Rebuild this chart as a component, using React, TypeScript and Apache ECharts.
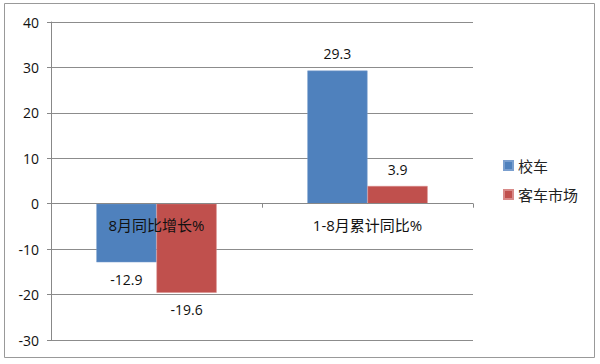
import React, { useEffect, useRef } from "react";
import * as echarts from "echarts";

const categories = ["8月同比增长%", "1-8月累计同比%"];
const seriesNames = ["校车", "客车市场"];
const schoolBus = [-12.9, 29.3];
const busMarket = [-19.6, 3.9];
const yTicks = { min: -30, max: 40, interval: 10 };
const colors = ["#4F81BD", "#C0504D"];

const FONT = "'Open Sans', 'Noto Sans CJK SC', sans-serif";
const GRID = { left: 51, right: 127, top: 22, bottom: 24 };
const H = 364;

export default function App() {
  const ref = useRef<HTMLDivElement>(null);
  useEffect(() => {
    if (!ref.current) return;
    const chart = echarts.init(ref.current, undefined, { renderer: "svg" });
    const mk = (vals: number[]) =>
      vals.map((v) => ({
        value: v,
        label: { position: v < 0 ? "bottom" : "top" },
      }));
    const plotH = H - GRID.top - GRID.bottom;
    const zeroFromBottom = (plotH * (0 - yTicks.min)) / (yTicks.max - yTicks.min);
    chart.setOption({
      animation: false,
      textStyle: { fontFamily: FONT },
      grid: { ...GRID, containLabel: false, outerBoundsMode: "none" },
      legend: {
        orient: "vertical",
        left: 498,
        top: 153,
        itemWidth: 9,
        itemHeight: 9,
        itemGap: 14,
        icon: "rect",
        textStyle: { fontSize: 15, color: "#222", fontFamily: FONT },
        data: seriesNames,
      },
      xAxis: {
        type: "category",
        data: categories,
        position: "bottom",
        offset: -zeroFromBottom,
        axisLine: { onZero: false, lineStyle: { color: "#888", width: 1 } },
        axisTick: { show: true, length: 4, lineStyle: { color: "#888" } },
        axisLabel: { margin: 14, fontSize: 15, color: "#111", fontFamily: FONT },
        z: 10,
      },
      yAxis: {
        type: "value",
        min: yTicks.min,
        max: yTicks.max,
        interval: yTicks.interval,
        axisLine: { show: true, lineStyle: { color: "#888", width: 1 } },
        axisTick: { show: true, length: 4, lineStyle: { color: "#888" } },
        axisLabel: { margin: 12, fontSize: 14, color: "#111", fontFamily: FONT },
        splitLine: { show: true, lineStyle: { color: "#8c8c8c", width: 1 } },
      },
      series: [
        {
          name: seriesNames[0],
          type: "bar",
          data: mk(schoolBus),
          barGap: "0%",
          barCategoryGap: "43%",
          itemStyle: { color: colors[0], borderColor: "#7a9fcf", borderWidth: 0.5 },
          label: { show: true, distance: 10, fontSize: 14, color: "#111", fontFamily: FONT },
        },
        {
          name: seriesNames[1],
          type: "bar",
          data: mk(busMarket),
          barGap: "0%",
          barCategoryGap: "43%",
          itemStyle: { color: colors[1], borderColor: "#d88a88", borderWidth: 0.5 },
          label: { show: true, distance: 10, fontSize: 14, color: "#111", fontFamily: FONT },
        },
      ],
      graphic: [
        {
          type: "rect",
          shape: { x: 4.5, y: 3.5, width: 590, height: 354 },
          style: { fill: "none", stroke: "#999", lineWidth: 1 },
          silent: true,
        },
      ],
    });
    return () => chart.dispose();
  }, []);
  return (
    <div
      ref={ref}
      style={{ position: "fixed", left: 0, top: 0, width: 600, height: 364, background: "#fff" }}
    />
  );
}
